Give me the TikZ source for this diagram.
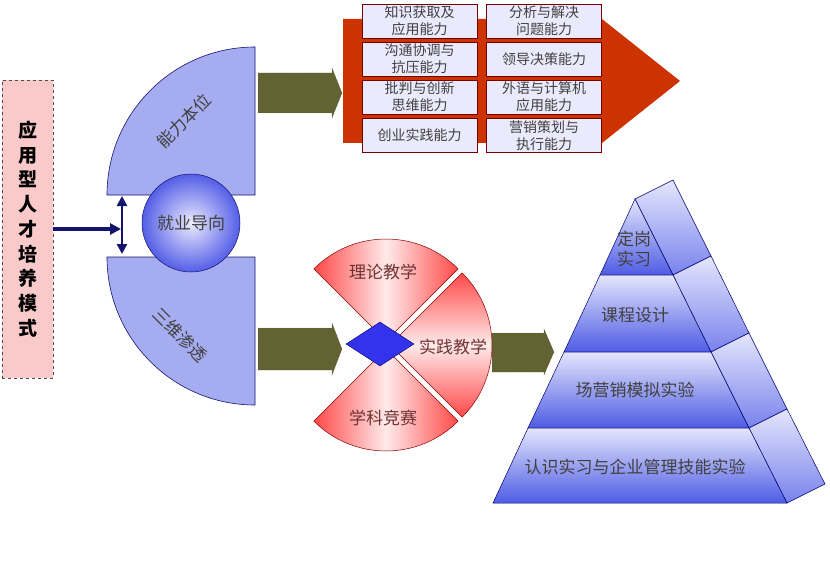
\documentclass[tikz,border=0pt]{standalone}
\usepackage{fontspec}
\setmainfont{Noto Sans CJK SC}
\usetikzlibrary{shapes.geometric,calc,arrows.meta}
\definecolor{olivebar}{RGB}{98,98,50}
\definecolor{brick}{RGB}{204,51,0}
\definecolor{lavender}{RGB}{166,172,240}
\definecolor{navyline}{RGB}{20,20,110}
\definecolor{piered}{RGB}{255,72,72}
\definecolor{pinkbox}{RGB}{250,202,202}
\definecolor{boxfill}{RGB}{234,234,252}
\definecolor{pyrtop}{RGB}{228,230,252}
\definecolor{pyrbot}{RGB}{78,92,228}
\definecolor{flankbot}{RGB}{120,130,236}
\begin{document}
\begin{tikzpicture}[x=1pt, y=-1pt,
  ability/.style={draw=red!45!black, line width=0.6pt, fill=boxfill, minimum width=115pt, minimum height=34pt, inner sep=0pt, align=center, text=black!75, font=\fontsize{14}{17}\selectfont},
  quarter/.style={draw=navyline, line width=0.6pt, fill=lavender},
  thrust/.style={fill=olivebar, draw=olivebar!70!black, densely dotted, line width=0.4pt},
  navyflow/.style={draw=navyline, line width=3.4pt},
  sector/.style={draw=red!55!black, line width=0.5pt},
  layer/.style={draw=blue!45!black, line width=0.5pt, top color=pyrtop, bottom color=pyrbot},
  flank/.style={draw=blue!45!black, line width=0.5pt, top color=pyrtop, bottom color=flankbot},
  bigtext/.style={text=black!75, font=\fontsize{17}{20}\selectfont, align=center}]
\useasboundingbox (0,0) rectangle (830,583);
% red block arrow with the abilities
\fill[brick] (343,19) -- (602,19) -- (680,81) -- (602,143) -- (343,143) -- cycle;
\node[ability] (k11) at (419.5,21) {知识获取及\\应用能力};
\node[ability] (k21) at (419.5,59) {沟通协调与\\抗压能力};
\node[ability] (k31) at (419.5,97) {批判与创新\\思维能力};
\node[ability] (k41) at (419.5,135.5) {创业实践能力};
\node[ability] (k12) at (544,21) {分析与解决\\问题能力};
\node[ability] (k22) at (544,59) {领导决策能力};
\node[ability] (k32) at (544,97) {外语与计算机\\应用能力};
\node[ability] (k42) at (544,135.5) {营销策划与\\执行能力};
% left column
\node[draw=black!70, dashed, fill=pinkbox, minimum width=51pt, minimum height=298pt, inner sep=0pt, align=center, font=\bfseries\fontsize{19}{24.75}\selectfont] (mode) at (27.5,229) {应\\用\\型\\人\\才\\培\\养\\模\\式};
\draw[quarter] (255,195) -- (255,47) arc[start angle=270, end angle=180, radius=148] -- cycle;
\draw[quarter] (255,257) -- (107,257) arc[start angle=180, end angle=90, radius=148] -- cycle;
\node[bigtext, rotate=45] (core) at (184,121) {能力本位};
\node[bigtext, rotate=-45] (depth) at (180,335) {三维渗透};
\node[circle, draw=navyline, line width=0.5pt, inner color=blue!8, outer color={rgb,255:red,84;green,94;blue,230}, minimum size=98pt, inner sep=0pt, bigtext] (job) at (191,223) {就业导向};
\coordinate (entry) at (121,229);
\coordinate (gapT) at (122,196);
\coordinate (gapB) at (122,254);
\draw[navyflow, -{Triangle[length=11pt,width=11pt]}] (mode) -- (entry);
\draw[navyflow, line width=2.4pt, {Triangle[length=10pt,width=10pt]}-{Triangle[length=10pt,width=10pt]}] (gapT) -- (gapB);
% olive arrows
\draw[thrust] (258,73) -- (332,73) -- (332,68) -- (342,93) -- (332,118) -- (332,113) -- (258,113) -- cycle;
\draw[thrust] (258,328) -- (332,328) -- (332,323) -- (342,349) -- (332,375) -- (332,370) -- (258,370) -- cycle;
\draw[thrust] (492,333) -- (544,333) -- (544,329) -- (554,352) -- (544,375) -- (544,372) -- (492,372) -- cycle;
% teaching pie
\coordinate (pc) at (386,345);
\draw[sector, left color=piered, right color=piered, middle color=red!8] ($(pc)+(0,-4)$) -- ++(225:102) arc[start angle=225, end angle=315, radius=102] -- cycle;
\draw[sector, top color=piered, bottom color=piered, middle color=red!8] ($(pc)+(4,0)$) -- ++(-45:102) arc[start angle=-45, end angle=45, radius=102] -- cycle;
\draw[sector, left color=piered, right color=piered, middle color=red!8] ($(pc)+(0,4)$) -- ++(45:102) arc[start angle=45, end angle=135, radius=102] -- cycle;
\node[bigtext, text=red!30!black!80] (theory) at (383,272) {理论教学};
\node[bigtext, text=red!30!black!80] (practice) at (453,347) {实践教学};
\node[bigtext, text=red!30!black!80] (contest) at (383,418) {学科竞赛};
\node[diamond, draw=blue!40!black, fill={rgb,255:red,51;green,51;blue,238}, minimum width=68pt, minimum height=44pt, inner sep=0pt] (hub) at (380,344) {};
% pyramid
\draw[flank] (635,199) -- (673,180) -- (711,256) -- (673,275) -- cycle;
\draw[flank] (673,275) -- (711,256) -- (749,333) -- (711,352) -- cycle;
\draw[flank] (711,352) -- (749,333) -- (787,409) -- (749,428) -- cycle;
\draw[flank] (749,428) -- (787,409) -- (825,484) -- (787,503) -- cycle;
\draw[layer] (635,199) -- (673,275) -- (600,275) -- cycle;
\draw[layer] (600,275) -- (673,275) -- (711,352) -- (564,352) -- cycle;
\draw[layer] (564,352) -- (711,352) -- (749,428) -- (528,428) -- cycle;
\draw[layer] (528,428) -- (749,428) -- (787,503) -- (493,503) -- cycle;
\node[bigtext] (lv1) at (634,249) {定岗\\实习};
\node[bigtext] (lv2) at (635,315) {课程设计};
\node[bigtext] (lv3) at (635,390) {场营销模拟实验};
\node[bigtext] (lv4) at (635,467) {认识实习与企业管理技能实验};
\end{tikzpicture}
\end{document}
